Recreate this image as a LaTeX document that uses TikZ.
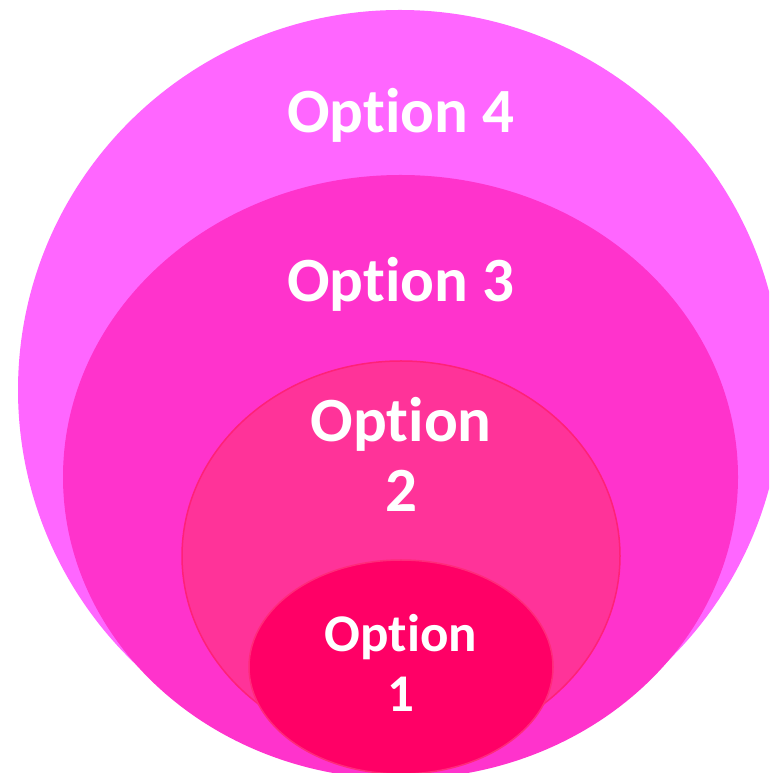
\documentclass[tikz,border=0pt]{standalone}
\usepackage{fontspec}
\setmainfont{Carlito}[Ligatures={NoCommon,TeX}]
\definecolor{c4}{HTML}{FF66FF}
\definecolor{c3}{HTML}{FF33CC}
\definecolor{c2}{HTML}{FF3399}
\definecolor{c2b}{HTML}{FF2277}
\definecolor{c1}{HTML}{FF0066}
\definecolor{c1b}{HTML}{FF2A7A}
\tikzset{
  lbl/.style={text=white, font=\fontsize{63}{70}\selectfont\bfseries, anchor=base, inner sep=0pt},
  lblsmall/.style={text=white, font=\fontsize{53}{57}\selectfont\bfseries, anchor=base, inner sep=0pt}
}
\begin{document}
\begin{tikzpicture}[x=1pt,y=1pt]
\useasboundingbox (0,0) rectangle (769,773);
\clip (0,0) rectangle (769,773);
% outer (Option 4)
\fill[c4] (400,383) ellipse [x radius=382, y radius=380];
% Option 3
\fill[c3] (400.5,296) ellipse [x radius=337.5, y radius=302];
% Option 2
\filldraw[fill=c2, draw=c2b, line width=1.5pt] (401,217) ellipse [x radius=219, y radius=195];
% Option 1
\filldraw[fill=c1, draw=c1b, line width=1.5pt] (401,106) ellipse [x radius=152, y radius=107];
% labels
\node[lbl] (t4) at (401,640) {Option 4};
\node[lbl] (t3) at (401,471) {Option 3};
\node[lbl] (t2a) at (401,331) {Option};
\node[lbl] (t2b) at (401,261) {2};
\node[lblsmall] (t1a) at (401,121) {Option};
\node[lblsmall] (t1b) at (401,61) {1};
\end{tikzpicture}
\end{document}
